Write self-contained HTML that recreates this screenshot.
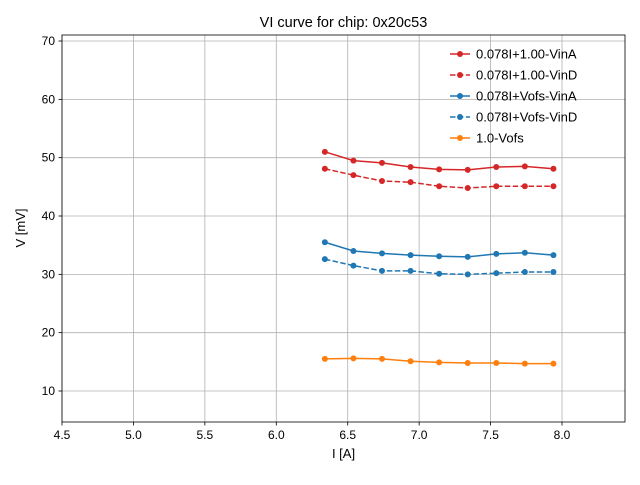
<!DOCTYPE html>
<html><head><meta charset="utf-8"><style>
body{margin:0;background:#fff}
svg{font-family:"Liberation Sans","DejaVu Sans",sans-serif}
</style></head><body>
<svg id="c" width="640" height="480"></svg>
<script>
const xs=[6.34,6.54,6.74,6.94,7.14,7.34,7.54,7.74,7.94];
const redA=[51.0,49.5,49.1,48.4,48.0,47.9,48.4,48.5,48.1];
const redD=[48.1,47.0,46.0,45.8,45.1,44.8,45.1,45.1,45.1];
const blueA=[35.5,34.0,33.6,33.3,33.1,33.0,33.5,33.7,33.3];
const blueD=[32.6,31.5,30.6,30.6,30.1,30.0,30.2,30.4,30.4];
const orange=[15.5,15.6,15.5,15.1,14.9,14.8,14.8,14.7,14.7];
const xticks=[4.5,5.0,5.5,6.0,6.5,7.0,7.5,8.0];
const yticks=[10,20,30,40,50,60,70];
const seriesNames=["0.078I+1.00-VinA","0.078I+1.00-VinD","0.078I+Vofs-VinA","0.078I+Vofs-VinD","1.0-Vofs"];
const L=62,R=625,T=35,B=422,X0=4.5,X1=8.441,Y0=4.686,Y1=71.03;
const sx=v=>L+(v-X0)/(X1-X0)*(R-L), sy=v=>B-(v-Y0)/(Y1-Y0)*(B-T);
const svg=document.getElementById('c');const NS='http://www.w3.org/2000/svg';
function mk(t,a,p){const e=document.createElementNS(NS,t);for(const k in a)e.setAttribute(k,a[k]);(p||svg).appendChild(e);return e;}
let g=mk('g',{});


xticks.forEach(v=>{mk('line',{x1:sx(v),x2:sx(v),y1:T,y2:B,stroke:'#b0b0b0','stroke-width':0.8},g);
 mk('line',{x1:sx(v),x2:sx(v),y1:B,y2:B+3.5,stroke:'#000','stroke-width':0.8});
 const t=mk('text',{x:sx(v),y:B+17,'text-anchor':'middle','font-size':12});t.textContent=v.toFixed(1);
 
 });
yticks.forEach(v=>{mk('line',{x1:L,x2:R,y1:sy(v),y2:sy(v),stroke:'#b0b0b0','stroke-width':0.8},g);
 mk('line',{x1:L-3.5,x2:L,y1:sy(v),y2:sy(v),stroke:'#000','stroke-width':0.8});
 const t=mk('text',{x:L-7,y:sy(v)+4,'text-anchor':'end','font-size':12});t.textContent=v;
 
 });
const sers=[[redA,'#d62728',''],[redD,'#d62728','5.5,2.4'],[blueA,'#1f77b4',''],[blueD,'#1f77b4','5.5,2.4'],[orange,'#ff7f0e','']];
sers.forEach((s,i)=>{const sg=mk('g',{});
 
 
 mk('polyline',{points:xs.map((x,j)=>sx(x)+','+sy(s[0][j])).join(' '),fill:'none',stroke:s[1],'stroke-width':1.5,'stroke-dasharray':s[2]},sg);
 xs.forEach((x,j)=>mk('circle',{cx:sx(x),cy:sy(s[0][j]),r:3,fill:s[1]},sg));});
const fr=mk('rect',{x:L,y:T,width:R-L,height:B-T,fill:'none',stroke:'#000','stroke-width':0.8});


const lg=mk('g',{});


sers.forEach((s,i)=>{const y=54+i*21;
 mk('line',{x1:450,x2:470,y1:y,y2:y,stroke:s[1],'stroke-width':1.5,'stroke-dasharray':s[2]},lg);
 mk('circle',{cx:460,cy:y,r:3,fill:s[1]},lg);
 const t=mk('text',{x:476,y:y+4.5,'font-size':13},lg);t.textContent=seriesNames[i];
 
 });
let t=mk('text',{x:343.5,y:27,'text-anchor':'middle','font-size':14.5});t.textContent='VI curve for chip: 0x20c53';


t=mk('text',{x:343.5,y:458,'text-anchor':'middle','font-size':13});t.textContent='I [A]';


t=mk('text',{x:0,y:0,'text-anchor':'middle','font-size':13,transform:'translate(25,228) rotate(-90)'});t.textContent='V [mV]';


</script></body></html>
